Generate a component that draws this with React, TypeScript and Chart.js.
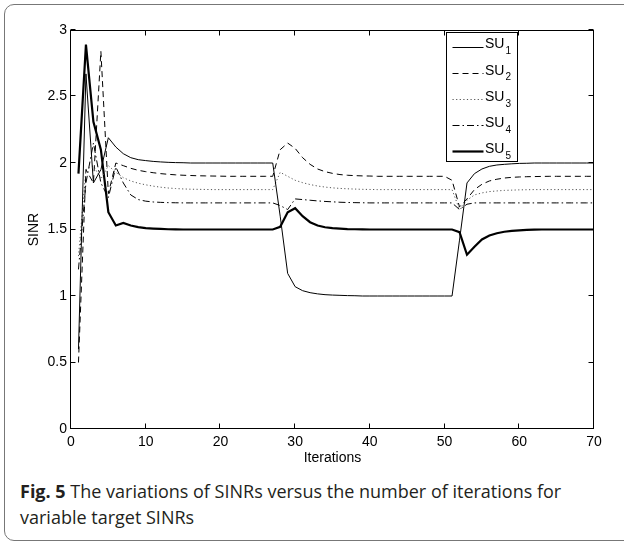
import React, { useEffect, useRef } from 'react';
import { Chart, registerables } from 'chart.js';

Chart.register(...registerables);

// Iterations run from 1 to 70
const FIRST_ITERATION = 1;

const SU1 = [
  0.6, 2.67, 1.85, 1.95, 2.19, 2.12, 2.07, 2.04, 2.025, 2.018,
  2.012, 2.008, 2.005, 2.003, 2.002, 2.0, 2.0, 2.0, 2.0, 2.0,
  2.0, 2.0, 2.0, 2.0, 2.0, 2.0, 2.0, 1.6, 1.17, 1.07,
  1.04, 1.025, 1.016, 1.01, 1.007, 1.005, 1.003, 1.002, 1.0, 1.0,
  1.0, 1.0, 1.0, 1.0, 1.0, 1.0, 1.0, 1.0, 1.0, 1.0,
  1.0, 1.42, 1.85, 1.92, 1.955, 1.975, 1.985, 1.99, 1.994, 1.997,
  1.998, 2.0, 2.0, 2.0, 2.0, 2.0, 2.0, 2.0, 2.0, 2.0,
];

const SU2 = [
  0.5, 1.95, 1.85, 2.84, 1.77, 2.0, 1.98, 1.96, 1.945, 1.935,
  1.927, 1.92, 1.915, 1.911, 1.908, 1.906, 1.904, 1.903, 1.902, 1.901,
  1.9, 1.9, 1.9, 1.9, 1.9, 1.9, 1.9, 2.1, 2.15, 2.11,
  2.04, 1.99, 1.955, 1.935, 1.922, 1.913, 1.908, 1.905, 1.903, 1.902,
  1.9, 1.9, 1.9, 1.9, 1.9, 1.9, 1.9, 1.9, 1.9, 1.9,
  1.87, 1.67, 1.73, 1.8, 1.84, 1.865, 1.878, 1.887, 1.892, 1.895,
  1.897, 1.898, 1.899, 1.9, 1.9, 1.9, 1.9, 1.9, 1.9, 1.9,
];

const SU3 = [
  1.3, 1.95, 1.98, 1.88, 1.98, 1.93, 1.89, 1.865, 1.848, 1.836,
  1.826, 1.818, 1.812, 1.808, 1.805, 1.803, 1.802, 1.801, 1.8, 1.8,
  1.8, 1.8, 1.8, 1.8, 1.8, 1.8, 1.8, 1.93, 1.9, 1.87,
  1.852, 1.838, 1.827, 1.819, 1.813, 1.809, 1.806, 1.804, 1.802, 1.801,
  1.8, 1.8, 1.8, 1.8, 1.8, 1.8, 1.8, 1.8, 1.8, 1.8,
  1.8, 1.65, 1.72, 1.76, 1.775, 1.785, 1.79, 1.794, 1.796, 1.798,
  1.799, 1.8, 1.8, 1.8, 1.8, 1.8, 1.8, 1.8, 1.8, 1.8,
];

const SU4 = [
  1.2, 1.85, 2.15, 1.85, 1.74, 1.97, 1.85, 1.76, 1.725, 1.713,
  1.707, 1.704, 1.702, 1.701, 1.7, 1.7, 1.7, 1.7, 1.7, 1.7,
  1.7, 1.7, 1.7, 1.7, 1.7, 1.7, 1.7, 1.68, 1.65, 1.73,
  1.725, 1.72, 1.715, 1.711, 1.708, 1.705, 1.703, 1.702, 1.701, 1.7,
  1.7, 1.7, 1.7, 1.7, 1.7, 1.7, 1.7, 1.7, 1.7, 1.7,
  1.7, 1.65, 1.69, 1.7, 1.7, 1.7, 1.7, 1.7, 1.7, 1.7,
  1.7, 1.7, 1.7, 1.7, 1.7, 1.7, 1.7, 1.7, 1.7, 1.7,
];

const SU5 = [
  1.92, 2.89, 2.31, 2.1, 1.63, 1.53, 1.55, 1.53, 1.518, 1.511,
  1.507, 1.504, 1.502, 1.501, 1.5, 1.5, 1.5, 1.5, 1.5, 1.5,
  1.5, 1.5, 1.5, 1.5, 1.5, 1.5, 1.5, 1.52, 1.63, 1.66,
  1.6, 1.555, 1.53, 1.517, 1.51, 1.506, 1.503, 1.502, 1.501, 1.5,
  1.5, 1.5, 1.5, 1.5, 1.5, 1.5, 1.5, 1.5, 1.5, 1.5,
  1.5, 1.48, 1.31, 1.37, 1.425, 1.455, 1.472, 1.483, 1.49, 1.494,
  1.497, 1.499, 1.5, 1.5, 1.5, 1.5, 1.5, 1.5, 1.5, 1.5,
];

const SERIES = [SU1, SU2, SU3, SU4, SU5];
const SERIES_NAMES = ['SU', 'SU', 'SU', 'SU', 'SU'];
const SERIES_SUBS = ['1', '2', '3', '4', '5'];

const X_TICKS = [0, 10, 20, 30, 40, 50, 60, 70];
const Y_TICKS = [0, 0.5, 1, 1.5, 2, 2.5, 3];

const X_TITLE = 'Iterations';
const Y_TITLE = 'SINR';
const CAPTION_BOLD = 'Fig. 5';
const CAPTION_LINE1 = ' The variations of SINRs versus the number of iterations for';
const CAPTION_LINE2 = 'variable target SINRs';

const LINE_STYLES = [
  { width: 1, dash: [] as number[], color: '#000' },
  { width: 1, dash: [6, 4], color: '#000' },
  { width: 1, dash: [1.2, 2.4], color: '#555' },
  { width: 1, dash: [7, 3, 1.5, 3], color: '#000' },
  { width: 2.2, dash: [] as number[], color: '#000' },
];

const FONT = '"Liberation Sans", Arial, Helvetica, sans-serif';

const axesAndLegend = {
  id: 'axesAndLegend',
  afterDatasetsDraw(chart: any) {
    const { ctx, chartArea: a, scales } = chart;
    ctx.save();
    ctx.setLineDash([]);
    ctx.strokeStyle = '#000';
    ctx.lineWidth = 1;
    const L = Math.round(a.left) - 0.5;
    const R = Math.round(a.right) - 0.5;
    const T = Math.round(a.top) + 0.5;
    const B = Math.round(a.bottom) - 0.5;
    ctx.strokeRect(L, T, R - L, B - T);
    const tl = 5;
    ctx.beginPath();
    X_TICKS.forEach((v) => {
      const px = Math.round(scales.x.getPixelForValue(v)) - 0.5;
      ctx.moveTo(px, B);
      ctx.lineTo(px, B - tl);
      ctx.moveTo(px, T);
      ctx.lineTo(px, T + tl);
    });
    Y_TICKS.forEach((v) => {
      const py = Math.round(scales.y.getPixelForValue(v)) - 0.5;
      ctx.moveTo(L, py);
      ctx.lineTo(L + tl, py);
      ctx.moveTo(R, py);
      ctx.lineTo(R - tl, py);
    });
    ctx.stroke();

    // legend
    const bx = Math.round(a.right) - 147.5;
    const by = Math.round(a.top) + 2.5;
    const bw = 71;
    const bh = 129;
    ctx.fillStyle = '#fff';
    ctx.fillRect(bx, by, bw, bh);
    ctx.strokeStyle = '#000';
    ctx.lineWidth = 1;
    ctx.strokeRect(bx, by, bw, bh);
    SERIES_NAMES.forEach((name, k) => {
      const st = LINE_STYLES[k];
      const y = by + 14 + k * 26.2;
      ctx.beginPath();
      ctx.setLineDash(st.dash);
      ctx.strokeStyle = st.color;
      ctx.lineWidth = st.width;
      ctx.moveTo(bx + 6, Math.round(y) + 0.5);
      ctx.lineTo(bx + 37, Math.round(y) + 0.5);
      ctx.stroke();
      ctx.setLineDash([]);
      ctx.fillStyle = '#000';
      ctx.textBaseline = 'middle';
      ctx.textAlign = 'left';
      ctx.font = `14px ${FONT}`;
      ctx.fillText(name, bx + 38.5, y - 2);
      const w = ctx.measureText(name).width;
      ctx.font = `10px ${FONT}`;
      ctx.fillText(SERIES_SUBS[k], bx + 39.5 + w, y + 5);
    });
    ctx.restore();
  },
};

export default function App() {
  const ref = useRef<HTMLCanvasElement | null>(null);

  useEffect(() => {
    if (!ref.current) return;
    const datasets = SERIES.map((vals, k) => ({
      label: SERIES_NAMES[k] + SERIES_SUBS[k],
      data: vals.map((v, i) => ({ x: i + FIRST_ITERATION, y: v })),
      borderColor: LINE_STYLES[k].color,
      borderWidth: LINE_STYLES[k].width,
      borderDash: LINE_STYLES[k].dash,
      pointRadius: 0,
      tension: 0,
      fill: false,
    }));
    const chart = new Chart(ref.current, {
      type: 'line',
      data: { datasets },
      options: {
        responsive: false,
        animation: false,
        devicePixelRatio: 1,
        layout: { padding: { left: 0, right: 30, top: 30, bottom: 0 } },
        plugins: { legend: { display: false }, tooltip: { enabled: false } },
        scales: {
          x: {
            type: 'linear',
            min: 0,
            max: 70,
            afterFit: (s: any) => { s.height = 41; },
            afterBuildTicks: (s: any) => { s.ticks = X_TICKS.map((v) => ({ value: v })); },
            grid: { display: false, drawTicks: false },
            border: { display: false },
            ticks: {
              color: '#000',
              font: { size: 14, family: FONT },
              padding: 5,
              maxRotation: 0,
              callback: (v: any) => String(v),
            },
            title: {
              display: true,
              text: X_TITLE,
              color: '#000',
              font: { size: 14, family: FONT },
              padding: { top: 0, bottom: 3.6 },
            },
          },
          y: {
            type: 'linear',
            min: 0,
            max: 3,
            afterFit: (s: any) => { s.width = 71; },
            afterBuildTicks: (s: any) => { s.ticks = Y_TICKS.map((v) => ({ value: v })); },
            grid: { display: false, drawTicks: false },
            border: { display: false },
            ticks: {
              color: '#000',
              font: { size: 14, family: FONT },
              padding: 4,
              callback: (v: any) => String(v),
            },
            title: {
              display: true,
              text: Y_TITLE,
              color: '#000',
              font: { size: 14, family: FONT },
              padding: { top: 26, bottom: 0 },
            },
          },
        },
      },
      plugins: [axesAndLegend],
    });
    return () => chart.destroy();
  }, []);

  return (
    <div style={{ position: 'fixed', left: 0, top: 0, width: 624, height: 545, background: '#fff', overflow: 'hidden' }}>
      <div
        style={{
          position: 'absolute',
          left: 4,
          top: 4,
          width: 640,
          height: 537,
          border: '1.5px solid #777',
          borderRadius: 10,
          boxSizing: 'border-box',
        }}
      />
      <canvas ref={ref} width={624} height={470} style={{ position: 'absolute', left: 0, top: 0, display: 'block' }} />
      <div
        style={{
          position: 'absolute',
          left: 20,
          top: 478,
          fontFamily: '"Open Sans", sans-serif',
          fontSize: 18,
          lineHeight: '26px',
          color: '#231f20',
          whiteSpace: 'nowrap',
        }}
      >
        <b>{CAPTION_BOLD}</b>
        {CAPTION_LINE1}
        <br />
        {CAPTION_LINE2}
      </div>
    </div>
  );
}
